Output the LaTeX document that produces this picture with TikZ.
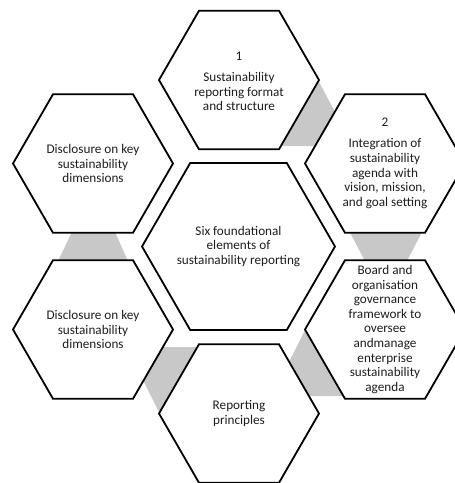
\documentclass[tikz,border=0pt]{standalone}
\usepackage{fontspec}
\setmainfont{Carlito}
\usetikzlibrary{shapes.geometric}
\definecolor{linkgray}{RGB}{200,200,200}
\definecolor{inkgray}{RGB}{30,30,30}
\tikzset{
  hexsmall/.style={regular polygon, regular polygon sides=6, minimum size=160pt,
    inner sep=0pt, draw=black, line width=1.8pt, fill=white},
  hexbig/.style={hexsmall, minimum size=193pt},
  label text/.style={align=center, text=inkgray, inner sep=0pt,
    font=\fontsize{13.2pt}{14.6pt}\selectfont},
  link/.style={fill=linkgray, draw=none}
}
\begin{document}
\begin{tikzpicture}[x=1pt, y=-1pt]
\useasboundingbox (0,0) rectangle (455,483);
\clip (0,0) rectangle (455,483);

% grey links between neighbouring cells (drawn underneath)
\fill[link] (318,80) -- (342,125) -- (330,146) -- (270,146) -- cycle;
\fill[link] (346,225) -- (425.6,225) -- (403.4,268) -- (368.6,268) -- cycle;
\fill[link] (305,330) -- (286,368) -- (290,396) -- (350,396) -- cycle;
\fill[link] (160,414) -- (138,370) -- (150,347) -- (210,347) -- cycle;
\fill[link] (75.4,225) -- (111.9,225) -- (131.1,268) -- (54.6,268) -- cycle;

% hexagonal cells
\node[hexbig]   (core)  at (238.5,246.5) {};
\node[hexsmall] (top)   at (239,80) {};
\node[hexsmall] (rtop)  at (385,163.5) {};
\node[hexsmall] (rbot)  at (385,329.5) {};
\node[hexsmall] (bot)   at (239,413.5) {};
\node[hexsmall] (lbot)  at (93,329.5) {};
\node[hexsmall] (ltop)  at (93,163.5) {};

% cell texts
\node[label text] (tcore) at (core) {Six foundational\\elements of\\sustainability reporting};
\node[label text] (ttop)  at ([yshift=-1.5pt]top.center) {1\\[6.4pt]Sustainability\\reporting format\\and structure};
\node[label text] (trtop) at (rtop) {2\\[6.4pt]Integration of\\sustainability\\agenda with\\vision, mission,\\and goal setting};
\node[label text] (trbot) at (rbot) {Board and\\organisation\\governance\\framework to\\oversee\\andmanage\\enterprise\\sustainability\\agenda};
\node[label text] (tbot)  at (bot) {Reporting\\principles};
\node[label text] (tlbot) at (lbot) {Disclosure on key\\sustainability\\dimensions};
\node[label text] (tltop) at (ltop) {Disclosure on key\\sustainability\\dimensions};
\end{tikzpicture}
\end{document}
